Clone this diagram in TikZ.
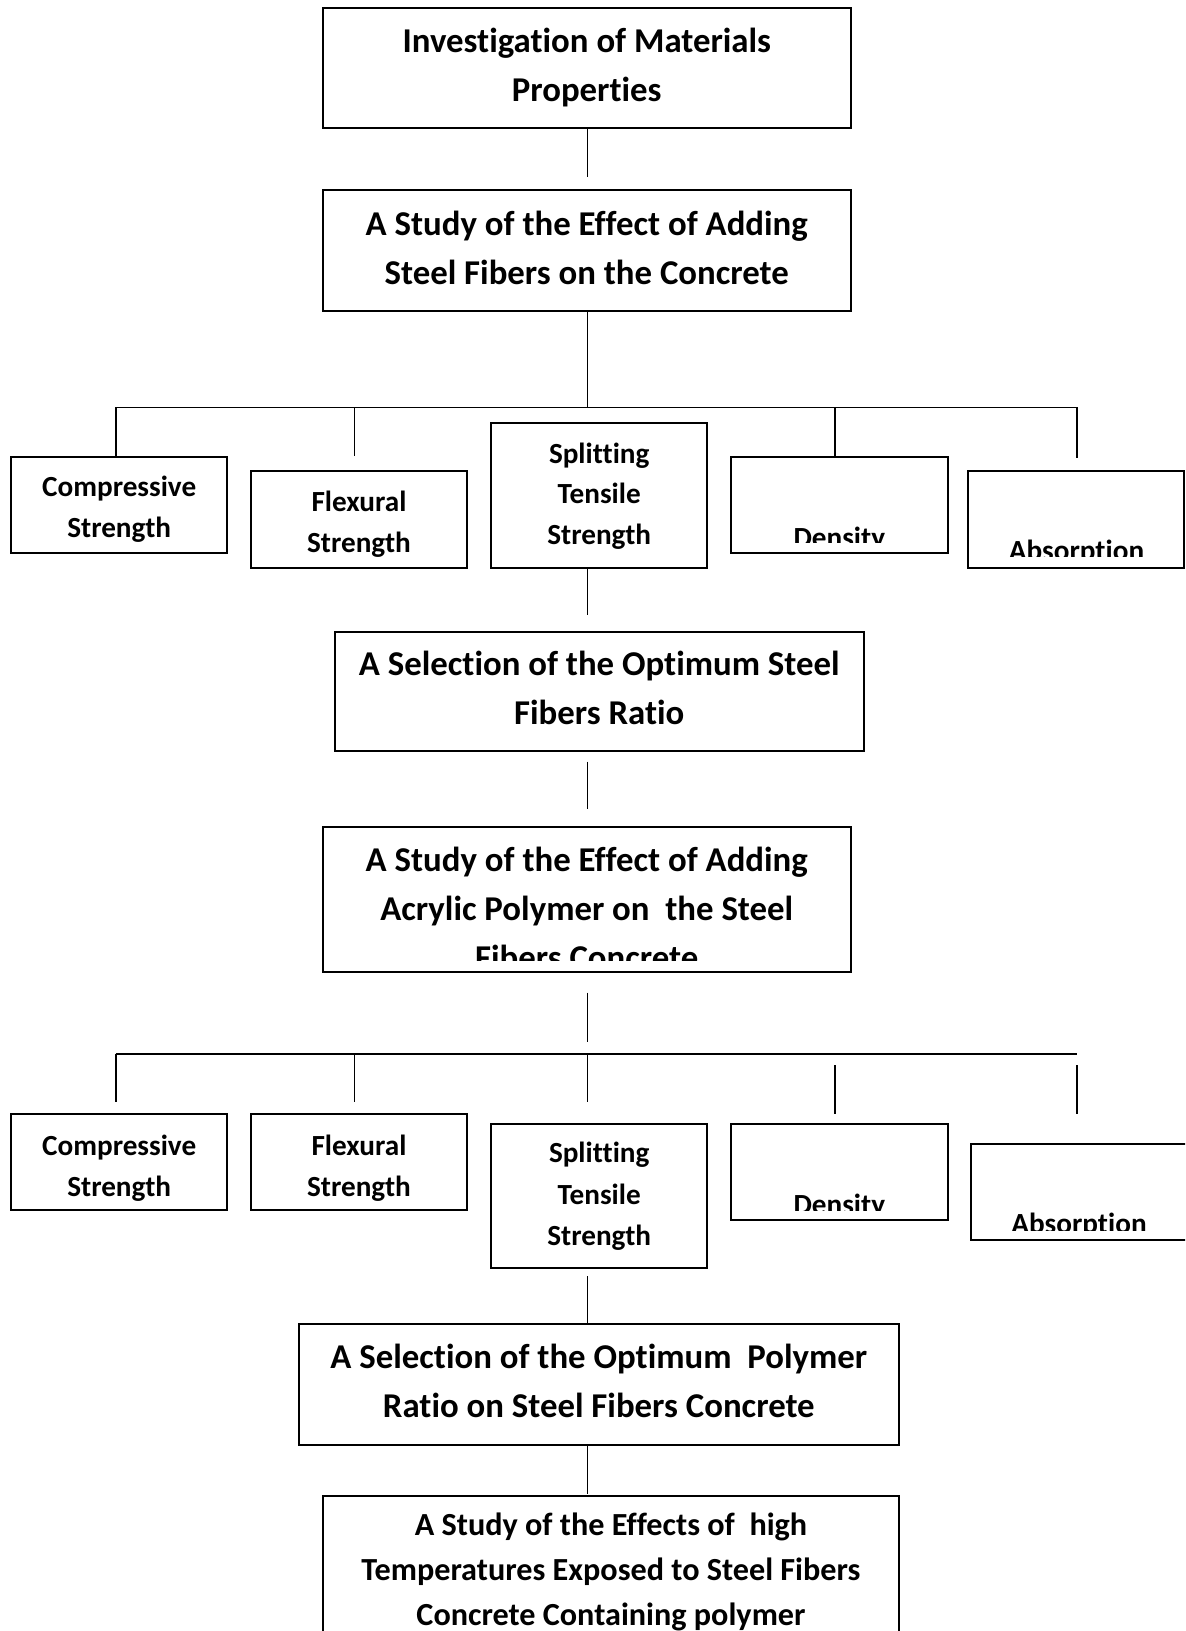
\documentclass[tikz,border=0pt]{standalone}
\usepackage{fontspec}
\setmainfont{Carlito}[Ligatures={NoCommon}]
\usetikzlibrary{fit}
\tikzset{
  box/.style={draw, line width=1pt, inner sep=0pt},
  txt/.style={anchor=base, align=center, inner sep=0pt},
  big/.style={txt, font=\fontsize{17.4}{24.5}\selectfont\bfseries},
  small/.style={txt, font=\fontsize{14.6}{20.8}\selectfont\bfseries},
  conn/.style={line width=0.8pt},
}
\begin{document}
\begin{tikzpicture}[x=0.5pt,y=-0.5pt]
\clip (0,0) rectangle (1185,1631);
\fill[white] (0,0) rectangle (1185,1631);

% (text nodes are placed at the baseline of their last line)
% top boxes
\node[box, fit={(322.5,8.3)(851,128)}] (b1) {};
\node[big] (b1t) at (586.75,101.5) {Investigation of Materials\\Properties};
\node[box, fit={(322.5,190.4)(851,311)}] (b2) {};
\node[big] (b2t) at (586.75,284.6) {A Study of the Effect of Adding\\Steel Fibers on the Concrete};

% row 1
\node[box, fit={(11,457.3)(227.3,553.3)}] (c1) {};
\node[small] (c1t) at (119.2,537.6) {Compressive\\Strength};
\node[box, fit={(250.7,471)(467.3,567.7)}] (f1) {};
\node[small] (f1t) at (359,552.6) {Flexural\\Strength};
\node[box, fit={(491,423.3)(707.3,567.7)}] (s1) {};
\node[small, font=\fontsize{14.6}{20.3}\selectfont\bfseries] (s1t) at (599.2,544.5) {Splitting\\Tensile\\Strength};
\node[box, fit={(731,457.3)(947.7,553.3)}] (d1) {};
\node[box, fit={(968.3,471)(1184.3,567.7)}] (a1) {};
\begin{scope}
  \clip (731,457.3) rectangle (947.7,542.3);
  \node[small] (d1t) at (839.3,547) {Density};
\end{scope}
\begin{scope}
  \clip (968.3,471) rectangle (1184.3,556.7);
  \node[small] (a1t) at (1076.5,560.3) {Absorption};
\end{scope}

% middle boxes
\node[box, fit={(335,631.5)(863.5,751)}] (b3) {};
\node[big] (b3t) at (599.25,724.7) {A Selection of the Optimum Steel\\Fibers Ratio};
\node[box, fit={(322.5,827)(851,971.7)}] (b4) {};
\begin{scope}
  \clip (322.5,827) rectangle (851,960);
  \node[big] (b4t) at (586.75,969.3) {A Study of the Effect of Adding\\Acrylic Polymer on\ \ the Steel\\Fibers Concrete};
\end{scope}

% row 2
\node[box, fit={(11,1114)(227.3,1210)}] (c2) {};
\node[small] (c2t) at (119.2,1196.9) {Compressive\\Strength};
\node[box, fit={(250.7,1114)(467.3,1210)}] (f2) {};
\node[small] (f2t) at (359,1196.9) {Flexural\\Strength};
\node[box, fit={(491,1124)(707.3,1268.3)}] (s2) {};
\node[small] (s2t) at (599.2,1245.8) {Splitting\\Tensile\\Strength};
\node[box, fit={(731,1124)(947.7,1220)}] (d2) {};
\node[box, fit={(970.7,1144)(1190,1240)}] (a2) {};
\begin{scope}
  \clip (731,1124) rectangle (947.7,1210);
  \node[small] (d2t) at (839.3,1214.3) {Density};
\end{scope}
\begin{scope}
  \clip (970.7,1144) rectangle (1190,1230);
  \node[small] (a2t) at (1079,1233.6) {Absorption};
\end{scope}

% bottom boxes
\node[box, fit={(298.6,1324.4)(899,1445)}] (b5) {};
\node[big] (b5t) at (598.8,1417.6) {A Selection of the Optimum\ \ Polymer\\Ratio on Steel Fibers Concrete};
\node[box, fit={(322.9,1496)(899,1720)}] (b6) {};
\node[big, font=\fontsize{16.1}{22.4}\selectfont\bfseries] (b6t) at (611,1625) {A Study of the Effects of\ \ high\\Temperatures Exposed to Steel Fibers\\Concrete Containing polymer};

% free connector ends
\coordinate (k1) at (587.3,177);
\coordinate (bus1L) at (115.7,407.3);
\coordinate (bus1M) at (587.3,407.3);
\coordinate (bus1R) at (1076.7,407.3);
\coordinate (f1a) at (354.3,407.3);
\coordinate (f1e) at (354.3,456);
\coordinate (d1a) at (834.7,407.3);
\coordinate (a1e) at (1076.7,457.7);
\coordinate (k2) at (587.3,615);
\coordinate (k3a) at (587.3,761.6);
\coordinate (k3b) at (587.3,809.4);
\coordinate (k4a) at (587.3,992.5);
\coordinate (k4b) at (587.3,1041.5);
\coordinate (bus2L) at (115.7,1054);
\coordinate (bus2M) at (587.3,1054);
\coordinate (bus2R) at (1076.7,1054);
\coordinate (c2e) at (115.7,1101.7);
\coordinate (f2a) at (354.3,1054);
\coordinate (f2e) at (354.3,1101.7);
\coordinate (s2e) at (587.3,1101.7);
\coordinate (d2a) at (834.7,1065);
\coordinate (d2e) at (834.7,1114);
\coordinate (a2a) at (1076.7,1065);
\coordinate (a2e) at (1076.7,1114);
\coordinate (k5) at (587.3,1276);
\coordinate (k6) at (587.3,1494);

% connectors
\draw[conn] (b1.south -| k1) -- (k1);
\draw[conn] (b2.south -| bus1M) -- (bus1M);
\draw[conn] (bus1L) -- (bus1R);
\draw[conn] (bus1L) -- (bus1L |- c1.north);
\draw[conn] (f1a) -- (f1e);
\draw[conn] (d1a) -- (d1a |- d1.north);
\draw[conn] (bus1R) -- (a1e);
\draw[conn] (s1.south -| k2) -- (k2);
\draw[conn] (k3a) -- (k3b);
\draw[conn] (k4a) -- (k4b);
\draw[conn] (bus2L) -- (bus2R);
\draw[conn] (bus2L) -- (c2e);
\draw[conn] (f2a) -- (f2e);
\draw[conn] (bus2M) -- (s2e);
\draw[conn] (d2a) -- (d2e);
\draw[conn] (a2a) -- (a2e);
\draw[conn] (k5) -- (k5 |- b5.north);
\draw[conn] (b5.south -| k6) -- (k6);
\end{tikzpicture}
\end{document}
